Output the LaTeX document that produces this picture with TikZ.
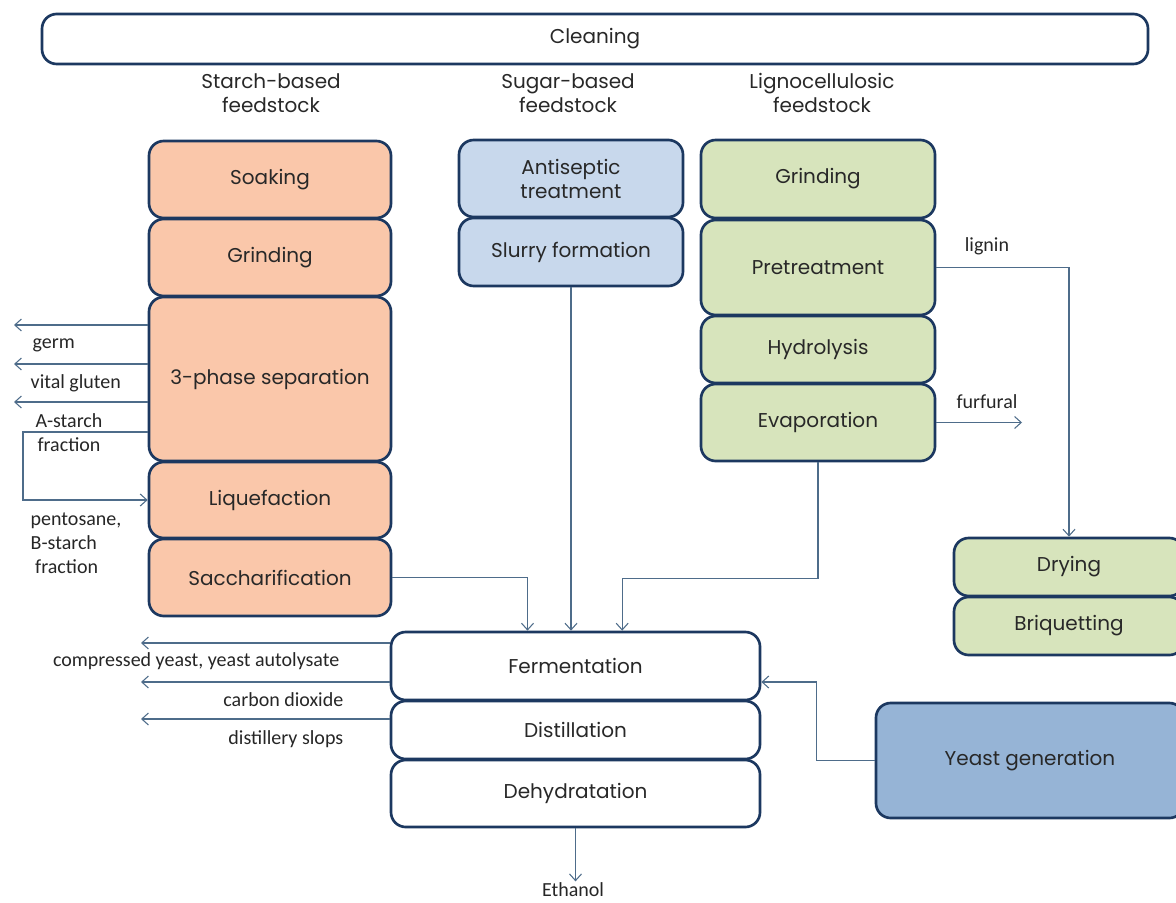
\documentclass[tikz,border=0pt]{standalone}
\usepackage{fontspec}
\newfontfamily\stagefont{Poppins}
\newfontfamily\notefont{Carlito}
\usetikzlibrary{arrows.meta}
\definecolor{stageborder}{RGB}{28,56,96}
\definecolor{starchfill}{RGB}{250,199,170}
\definecolor{sugarfill}{RGB}{200,216,236}
\definecolor{lignofill}{RGB}{215,228,188}
\definecolor{yeastfill}{RGB}{150,180,214}
\definecolor{flowline}{RGB}{78,108,138}
\definecolor{stagetext}{RGB}{40,40,40}

\begin{document}
\begin{tikzpicture}[
        x=0.75pt, y=-0.75pt,
        stage/.style={draw=stageborder, line width=2pt, rounded corners=11pt, inner sep=2pt,
            font=\stagefont\fontsize{15}{18}\selectfont, text=stagetext, align=center},
        starch/.style={stage, fill=starchfill, minimum width=181.5pt},
        sugar/.style={stage, fill=sugarfill, minimum width=168pt},
        ligno/.style={stage, fill=lignofill, minimum width=175.5pt},
        plain/.style={stage, fill=white, minimum width=276.75pt},
        heading/.style={font=\stagefont\fontsize{15}{18}\selectfont, text=stagetext, align=center},
        note/.style={font=\notefont\fontsize{15}{18}\selectfont, text=black!85},
        flow/.style={draw=flowline, line width=0.8pt, -{Straight Barb[length=5pt,width=9pt]}}
    ]
	\useasboundingbox (0,0) rectangle (1176,902);
	\clip (0,0) rectangle (1176,902);

	\node[stage, fill=white, minimum width=829.5pt, minimum height=37.5pt] (clean) at (595,39) {Cleaning};

	\node[heading] (hstarch) at (271,93) {Starch-based\\feedstock};
	\node[heading] (hsugar) at (568,93) {Sugar-based\\feedstock};
	\node[heading] (hligno) at (822,93) {Lignocellulosic\\feedstock};

	% starch line
	\node[starch, minimum height=57.75pt] (soak) at (270,179.5) {Soaking};
	\node[starch, minimum height=57.75pt] (grindS) at (270,257.5) {Grinding};
	\node[starch, minimum height=123pt] (sep) at (270,379) {3-phase separation};
	\node[starch, minimum height=57pt] (liq) at (270,500) {Liquefaction};
	\node[starch, minimum height=57.75pt] (sacch) at (270,577.5) {Saccharification};

	% sugar line
	\node[sugar, minimum height=57.75pt] (anti) at (571,178.5) {Antiseptic\\treatment};
	\node[sugar, minimum height=51pt] (slurry) at (571,252) {Slurry formation};

	% lignocellulosic line
	\node[ligno, minimum height=58.5pt] (grindL) at (818,179) {Grinding};
	\node[ligno, minimum height=71.25pt] (pretr) at (818,267.5) {Pretreatment};
	\node[ligno, minimum height=50.25pt] (hydro) at (818,349.5) {Hydrolysis};
	\node[ligno, minimum height=57.75pt] (evap) at (818,422.5) {Evaporation};
	\node[stage, fill=lignofill, minimum width=172.5pt, minimum height=43.5pt] (dry) at (1069,567) {Drying};
	\node[stage, fill=lignofill, minimum width=172.5pt, minimum height=43.5pt] (briq) at (1069,626) {Briquetting};

	% common line
	\node[plain, minimum height=51pt] (ferm) at (575.5,666) {Fermentation};
	\node[plain, minimum height=43.5pt] (dist) at (575.5,730) {Distillation};
	\node[plain, minimum height=50.25pt] (dehyd) at (575.5,793.5) {Dehydratation};
	\node[stage, fill=yeastfill, minimum width=231pt, minimum height=86.25pt] (yeast) at (1030,760.5) {Yeast generation};
	\node[note, inner sep=1pt] (ethanol) at (573,890) {Ethanol};

	% by-products of the separation
	\coordinate (germEnd) at (14,325);
	\coordinate (glutenEnd) at (14,364);
	\coordinate (starchEnd) at (14,402);
	\coordinate (loopCorner) at (23,432);
	\draw[flow] (sep.west |- germEnd) -- (germEnd);
	\draw[flow] (sep.west |- glutenEnd) -- (glutenEnd);
	\draw[flow] (sep.west |- starchEnd) -- (starchEnd);
	\draw[flow] (loopCorner -| sep.west) -- (loopCorner) |- (liq.west);
	\node[note, anchor=west] (germ) at (28,345) {germ};
	\node[note, anchor=west] (gluten) at (26,383) {vital gluten};
	\node[note, align=center] (astarch) at (69,433) {A-starch\\fraction};
	\node[note, align=left, anchor=west] (bstarch) at (26,543) {pentosane,\\B-starch\\\ fraction};

	% into fermentation
	\draw[flow] (sacch.east) -| ([xshift=-36pt]ferm.north);
	\draw[flow] (slurry.south) -- (slurry.south |- ferm.north);
	\draw[flow] (evap.south) -- ++(0,116) -| ([xshift=35pt]ferm.north);
	\draw[flow] (yeast.west) -- ++(-58,0) |- ([yshift=-12pt]ferm.east);

	% lignocellulosic by-products
	\coordinate (furfuralEnd) at (1022,422.5);
	\draw[flow] (pretr.east) -| (dry.north);
	\draw[flow] (evap.east) -- (furfuralEnd);
	\node[note] (lignin) at (987,246) {lignin};
	\node[note] (furfural) at (987,402) {furfural};

	% by-products of fermentation and distillation
	\coordinate (yeastOut) at (141,643);
	\coordinate (co2Out) at (141,682);
	\coordinate (slopsOut) at (141,719);
	\draw[flow] (yeastOut -| ferm.west) -- (yeastOut);
	\draw[flow] (co2Out -| ferm.west) -- (co2Out);
	\draw[flow] (slopsOut -| dist.west) -- (slopsOut);
	\node[note, anchor=east] (autolysate) at (344,661) {compressed yeast, yeast autolysate};
	\node[note, anchor=east] (co2) at (348,700) {carbon dioxide};
	\node[note, anchor=east] (slops) at (348,739) {distillery slops};

	\draw[flow] (dehyd.south) -- (dehyd.south |- ethanol.north);
\end{tikzpicture}
\end{document}
